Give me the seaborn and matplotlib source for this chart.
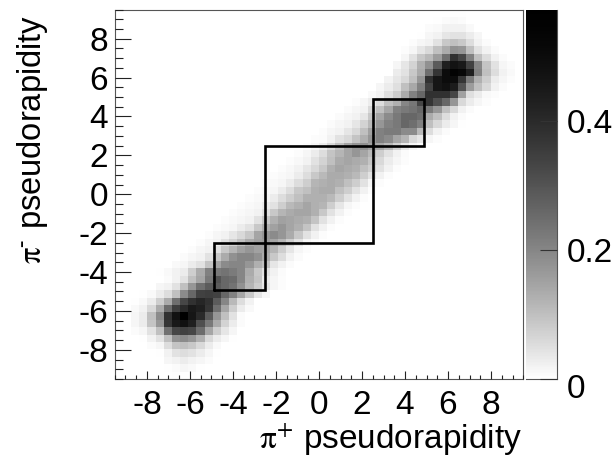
import numpy as np
import pandas as pd
import matplotlib
matplotlib.use('Agg')
import matplotlib.pyplot as plt
from matplotlib.colors import LinearSegmentedColormap
from matplotlib.transforms import ScaledTranslation
import seaborn as sns

# first column of every row, then the cell values (x100)
start_cols = [7, 6, 6, 5, 4, 3, 2, 2, 2, 2, 2, 3, 5, 6, 5, 7, 8, 9, 10, 11, 12, 13, 14, 15, 16,
              17, 18, 19, 20, 21, 22, 23, 24, 25, 26, 27, 28, 29, 31, 32, 33, 34, 34, 35, 35, 36, 37, 38, 39, 41]
row_00 = [0.3, 0.4, 0.3]
row_01 = [0.4, 0.8, 1.5, 1, 0.4]
row_02 = [1.5, 2.2, 3, 2.2, 1.5, 0.8]
row_03 = [0.4, 2.2, 4.5, 5.3, 4.5, 3, 1.5, 0.4]
row_04 = [0.8, 1.5, 5.3, 9.3, 10, 8.5, 6, 3, 1]
row_05 = [0.4, 2.2, 4.5, 10, 18, 19, 17, 12.7, 6, 3, 1.5, 0.4]
row_06 = [0.8, 1.5, 4.5, 10, 24, 33, 34, 33, 25, 14.3, 7.7, 3.8, 1.5]
row_07 = [1.5, 3, 9.3, 17, 37, 45, 48, 43, 31, 22.5, 13.5, 6.9, 3, 0.8]
row_08 = [1.5, 3, 10, 19, 38, 48, 57, 46, 40, 28.5, 17, 10, 4.5, 0.8]
row_09 = [1, 2.2, 6, 13.5, 25, 35, 40, 45, 43, 37, 24.5, 14.3, 7.7, 3, 1]
row_10 = [0.4, 1, 3, 7.7, 13.5, 24.5, 33, 38, 41, 38, 28.5, 20, 11, 5.3, 2.2]
row_11 = [0.4, 1, 3, 5.3, 10, 19, 26, 34, 35, 34, 26, 21, 14.3, 8.5, 3.8, 1.5]
row_12 = [1.5, 2.2, 4.5, 10, 17, 24.5, 28.5, 28.5, 26, 23.5, 18, 11.8, 8, 3.8, 1.5, 0.6]
row_13 = [0.8, 2.2, 4.5, 10, 14.3, 22.5, 30, 26, 25, 20, 12.7, 9.3, 3, 1.5, 0.6]
row_14 = [0.4, 1, 2.2, 3, 7.7, 13.5, 21, 22.5, 23.5, 22, 20, 13.5, 8.5, 4.5, 2.2, 0.8]
row_15 = [1, 1.5, 3, 4.5, 9.3, 14.3, 19, 20, 20, 17, 12.7, 10, 3.8, 2.2, 0.8]
row_16 = [0.8, 1.5, 2.2, 4.5, 8.5, 13.5, 18, 20, 20, 18, 13.5, 8.5, 5.3, 2.2, 0.8]
row_17 = [0.6, 1.5, 2.2, 4.5, 8.5, 11.8, 15, 17, 15, 14.3, 11.8, 7.7, 3.8, 1.5, 0.6]
row_18 = [0.6, 1.5, 2.2, 4.5, 6.9, 10, 13.5, 15, 16, 14.3, 11.8, 7.7, 4.5, 1.5, 0.6]
row_19 = [0.6, 1.5, 2.2, 3.8, 6, 8.5, 14.3, 17, 19, 17, 13.5, 8.5, 4.5, 2.2, 0.6]
row_20 = [0.6, 1, 1.5, 3, 4.5, 8.5, 12.7, 15, 17, 14.3, 12.7, 9.3, 4.5, 2.2, 0.6]
row_21 = [0.6, 1, 1.5, 2.2, 4.5, 8.5, 12.7, 15, 14.3, 13.5, 12.7, 9.3, 4.5, 2.2, 0.6]
row_22 = [0.6, 1, 1.5, 2.2, 4.5, 8.5, 11.8, 13.5, 14.3, 14.3, 12.7, 8.5, 4.5, 2.2, 0.6]
row_23 = [0.6, 1, 1.5, 3, 4.5, 7.7, 11, 12.7, 14.3, 12.7, 11.8, 7.7, 3.8, 1.5, 0.6]
row_24 = [0.6, 1, 1.5, 3, 5.3, 7.7, 10, 12.7, 12.7, 12.7, 11, 7.7, 4.5, 2.2, 0.6]
row_25 = [0.6, 1, 1.5, 3, 5.3, 8.5, 10, 12.7, 13.5, 13.5, 10, 7.7, 4.5, 2.2, 0.6]
row_26 = [0.6, 1, 1.5, 3, 5.3, 7.7, 11.8, 12.7, 13.5, 12.7, 10, 7.7, 4.5, 1.5, 0.6]
row_27 = [0.6, 1, 1.5, 3, 5.3, 8.5, 11, 13.5, 13.5, 12.7, 11, 7.7, 4.5, 2.2, 0.6]
row_28 = [0.6, 1.2, 2.2, 3.8, 6, 8.5, 12.7, 14.3, 13.5, 12.7, 10, 7.7, 4.5, 2.2, 0.6]
row_29 = [0.6, 1.2, 2.2, 4.5, 6.9, 10, 13.5, 14.3, 13.5, 12.7, 9.3, 6, 3, 1.5, 0.5]
row_30 = [0.6, 1.5, 3, 5.3, 9.3, 11.8, 14.3, 17, 14.3, 11, 7.7, 4.5, 2.2, 0.8]
row_31 = [0.6, 1.5, 3, 6, 10, 14.3, 17, 18, 15, 14, 11, 7, 3.5, 1.5, 0.5]
row_32 = [0.5, 0.8, 2.2, 4.5, 6, 9.3, 12.7, 17, 21, 19, 14.3, 11.8, 6, 3.8, 1.5, 0.5]
row_33 = [0.5, 1.5, 2.2, 3.8, 6, 10, 15, 21, 22, 22, 19, 19, 11, 5.3, 2.2, 0.8]
row_34 = [0.8, 1.5, 2.2, 3.8, 6.9, 11, 17, 21, 22.5, 26, 24.5, 21, 10, 6, 3, 1.5, 0.4]
row_35 = [0.8, 1.5, 2.2, 3.8, 8.5, 14.3, 19, 22.5, 26, 26, 24.5, 13.5, 10, 5.3, 2.2, 0.8]
row_36 = [0.8, 1.5, 2.2, 6, 10, 14.3, 21, 22.5, 23.5, 26, 22, 17, 10, 6, 2.2, 0.8]
row_37 = [0.6, 1.5, 3, 5.3, 10, 12.7, 20, 23, 33, 37, 31, 26, 17, 6, 3, 1.5, 0.6]
row_38 = [1, 2.2, 5, 8, 13.5, 21, 26, 38, 38, 38, 33, 15, 5, 3, 1, 0.5]
row_39 = [1.5, 3, 5, 10, 14, 21, 34, 46, 48, 44, 30, 16, 10, 6, 2.2, 0.8]
row_40 = [2, 4, 6, 10, 17, 38, 46, 50, 50, 37, 22, 12.7, 7.7, 3, 1.5, 0.5]
row_41 = [3, 4.5, 8.5, 13.5, 24.5, 37, 50, 54, 52, 43, 21, 10, 5.3, 2.2, 1]
row_42 = [1.5, 3.8, 6.9, 12.7, 18, 28.5, 43, 47, 45, 34, 20, 9.3, 4.5, 1.5, 0.8]
row_43 = [1.5, 4.5, 8.5, 11, 16, 24.5, 38, 33, 21, 10, 5.3, 2.2, 0.8]
row_44 = [0.6, 1.5, 3.8, 6, 10, 13.5, 18, 17, 10, 4.5, 2.2, 0.8]
row_45 = [0.6, 1.5, 2.2, 4.5, 8.5, 10, 8.5, 5.3, 2.2, 0.8]
row_46 = [0.4, 1.5, 2.2, 3.8, 4.5, 4.5, 3, 1.5]
row_47 = [0.8, 1, 2.2, 2.2, 2.2, 1]
row_48 = [0.4, 0.8, 1, 0.8]
row_49 = [0.4, 0.4]

all_rows = [row_00, row_01, row_02, row_03, row_04, row_05, row_06, row_07, row_08, row_09,
            row_10, row_11, row_12, row_13, row_14, row_15, row_16, row_17, row_18, row_19,
            row_20, row_21, row_22, row_23, row_24, row_25, row_26, row_27, row_28, row_29,
            row_30, row_31, row_32, row_33, row_34, row_35, row_36, row_37, row_38, row_39,
            row_40, row_41, row_42, row_43, row_44, row_45, row_46, row_47, row_48, row_49]

# selection region outline
box_x = [-4.9, -2.5, -2.5, 2.5, 2.5, 4.9, 4.9, 2.5, 2.5, -2.5, -2.5, -4.9, -4.9]
box_y = [-4.9, -4.9, -2.5, -2.5, 2.5, 2.5, 4.9, 4.9, 2.5, 2.5, -2.5, -2.5, -4.9]

major_ticks = [-8, -6, -4, -2, 0, 2, 4, 6, 8]
major_labels = ['-8', '-6', '-4', '-2', '0', '2', '4', '6', '8']
cbar_ticks = [0, 0.2, 0.4]
cbar_labels = ['0', '0.2', '0.4']

eta_min, eta_max = -9.5, 9.5
z_max = 0.572
n_bins = 50

sns.set_style('white', {'text.color': 'black', 'xtick.color': 'black', 'ytick.color': 'black',
                        'axes.labelcolor': 'black', 'axes.axisbelow': False})
plt.rcParams['font.family'] = ['Liberation Sans', 'DejaVu Sans']
plt.rcParams['mathtext.fontset'] = 'stix'

density = np.zeros((n_bins, n_bins))
for j, (start, vals) in enumerate(zip(start_cols, all_rows)):
    density[j, start:start + len(vals)] = np.array(vals) / 100
edges = np.linspace(eta_min, eta_max, n_bins + 1)
centers = (edges[:-1] + edges[1:]) / 2
df = pd.DataFrame(density, index=centers, columns=centers)

def to_cell(v):
    return (np.asarray(v, dtype=float) - eta_min) / (eta_max - eta_min) * n_bins

W, H = 616, 459
fig = plt.figure(figsize=(W / 100, H / 100), dpi=100)
ax = fig.add_axes([114.7 / W, 1 - 379 / H, (523.3 - 114.7) / W, (379 - 9.5) / H])
cax = fig.add_axes([526 / W, 1 - 379 / H, (557.3 - 526) / W, (379 - 9.5) / H])

grays = [(1 - t) ** 1.5 for t in np.linspace(0, 1, 21)]
cmap = LinearSegmentedColormap.from_list('ramp', [str(g) for g in grays])

sns.heatmap(df, ax=ax, cbar_ax=cax, cmap=cmap, vmin=0, vmax=z_max,
            xticklabels=False, yticklabels=False, rasterized=True)
ax.set_xlim(0, n_bins)
ax.set_ylim(0, n_bins)
ax.set_axisbelow(False)
cax.set_axisbelow(False)

ax.plot(to_cell(box_x), to_cell(box_y), color='black', lw=1.9, solid_joinstyle='miter')

minor_ticks = np.arange(eta_min, eta_max + 0.01, 0.5)
ax.set_xticks(to_cell(major_ticks))
ax.set_xticklabels(major_labels)
ax.set_yticks(to_cell(major_ticks))
ax.set_yticklabels(major_labels)
ax.set_xticks(to_cell(minor_ticks), minor=True)
ax.set_yticks(to_cell(minor_ticks), minor=True)

ax.tick_params(axis='x', which='major', direction='in', length=5.5, width=0.8, color='#222222',
               labelsize=24, pad=8, bottom=True, labelrotation=0)
ax.tick_params(axis='x', which='minor', direction='in', length=2.7, width=0.8, color='#222222', bottom=True)
ax.tick_params(axis='y', which='major', direction='in', length=11.5, width=0.8, color='#222222',
               labelsize=24, pad=5, left=True, labelrotation=0)
ax.tick_params(axis='y', which='minor', direction='in', length=5.7, width=0.8, color='#222222', left=True)
for side, spine in ax.spines.items():
    spine.set_visible(True)
    spine.set_linewidth(0.8)
    spine.set_color('#555555')

cbar = ax.collections[0].colorbar
cbar.outline.set_visible(False)
cbar.set_ticks(cbar_ticks, labels=cbar_labels)
cax.tick_params(axis='y', direction='in', length=12, width=0.8, color='#333333',
                labelsize=24, pad=7, right=True)
cax.spines['right'].set_visible(True)
cax.spines['bottom'].set_visible(True)
for side in ['right', 'bottom']:
    cax.spines[side].set_linewidth(0.8)
    cax.spines[side].set_color('#555555')
zero_label = cax.get_yticklabels()[0]
zero_label.set_transform(zero_label.get_transform() + ScaledTranslation(0, -5 / 72, fig.dpi_scale_trans))

fig.text(522 / W, 1 - 422 / H, r'$\mathrm{\pi}^{+}$ pseudorapidity', ha='right', va='top', fontsize=24)
fig.text(33 / W, 1 - 15 / H, r'$\mathrm{\pi}^{\text{-}}$ pseudorapidity', ha='center', va='top',
         rotation=90, fontsize=23.5)

fig.savefig('out.png', dpi=100)
